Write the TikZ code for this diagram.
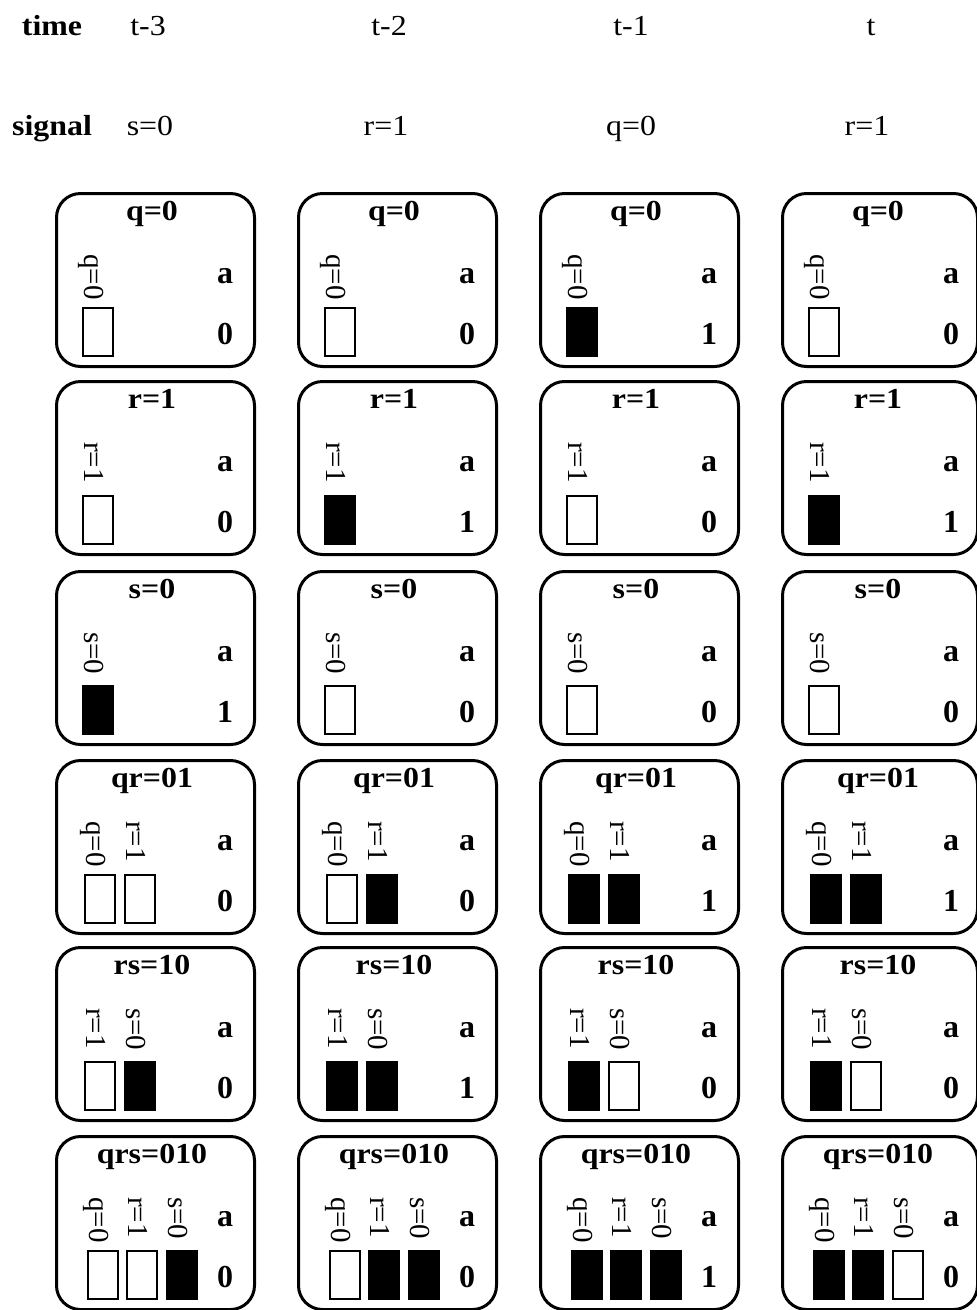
\documentclass[tikz,border=0pt]{standalone}
\usepackage{fontspec}
\setmainfont{Liberation Serif}
\newfontfamily\widefont{Liberation Serif}[FakeStretch=1.1]
\usetikzlibrary{calc}
\tikzset{
  panelbox/.style={draw, line width=3pt, rounded corners=24pt, minimum width=198pt,
    minimum height=173pt, inner sep=0pt, anchor=north west},
  bitbox/.style={draw, line width=2.6pt},
  head/.style={font=\widefont\fontsize{29}{32}\selectfont, anchor=base, inner sep=0pt},
  headb/.style={head, font=\widefont\bfseries\fontsize{29}{32}\selectfont},
  ttl/.style={font=\widefont\bfseries\fontsize{29}{32}\selectfont, anchor=base, inner sep=0pt},
  valtxt/.style={font=\bfseries\fontsize{32}{34}\selectfont, anchor=base, inner sep=0pt},
  lab/.style={rotate=-90, anchor=base west, inner sep=0pt, font=\fontsize{29}{30}\selectfont}
}
\newcommand\panel[7][]{%
  \node[panelbox,#1] (#2) at (#3,#4) {};
  \node[ttl] (#2t) at ($(#2.north west)+(97,28)$) {#5};
  \node[valtxt] (#2a) at ($(#2.north west)+(170,91)$) {a};
  \node[valtxt] (#2v) at ($(#2.north west)+(170,152)$) {#6};
  \foreach \bx/\lab/\fl [count=\k] in {#7} {
    \draw[bitbox, fill=\fl] ($(#2.north west)+(\bx,116)$) rectangle ++(30,48);
    \node[lab] (#2l\k) at ($(#2.north west)+(\bx+1,62)$) {\lab};
  }%
}
\begin{document}
\begin{tikzpicture}[x=1pt,y=-1pt]
\useasboundingbox (0,0) rectangle (977,1310);
% header
\node[headb] (time) at (52,35) {time};
\node[head] (tm3) at (148,35) {t-3};
\node[head] (tm2) at (389,35) {t-2};
\node[head] (tm1) at (631,35) {t-1};
\node[head] (tt) at (871,35) {t};
\node[headb] (signal) at (52,135) {signal};
\node[head] (sg1) at (150,135) {s=0};
\node[head] (sg2) at (386,135) {r=1};
\node[head] (sg3) at (631,135) {q=0};
\node[head] (sg4) at (867,135) {r=1};
% row 1
\panel{a1}{55}{192}{q=0}{0}{28/q=0/white}
\panel{b1}{297}{192}{q=0}{0}{28/q=0/white}
\panel{c1}{539}{192}{q=0}{1}{28/q=0/black}
\panel[minimum width=195pt]{d1}{781}{192}{q=0}{0}{28/q=0/white}
% row 2
\panel{a2}{55}{380}{r=1}{0}{28/r=1/white}
\panel{b2}{297}{380}{r=1}{1}{28/r=1/black}
\panel{c2}{539}{380}{r=1}{0}{28/r=1/white}
\panel[minimum width=195pt]{d2}{781}{380}{r=1}{1}{28/r=1/black}
% row 3
\panel{a3}{55}{570}{s=0}{1}{28/s=0/black}
\panel{b3}{297}{570}{s=0}{0}{28/s=0/white}
\panel{c3}{539}{570}{s=0}{0}{28/s=0/white}
\panel[minimum width=195pt]{d3}{781}{570}{s=0}{0}{28/s=0/white}
% row 4
\panel{a4}{55}{759}{qr=01}{0}{30/q=0/white,70/r=1/white}
\panel{b4}{297}{759}{qr=01}{0}{30/q=0/white,70/r=1/black}
\panel{c4}{539}{759}{qr=01}{1}{30/q=0/black,70/r=1/black}
\panel[minimum width=195pt]{d4}{781}{759}{qr=01}{1}{30/q=0/black,70/r=1/black}
% row 5
\panel{a5}{55}{946}{rs=10}{0}{30/r=1/white,70/s=0/black}
\panel{b5}{297}{946}{rs=10}{1}{30/r=1/black,70/s=0/black}
\panel{c5}{539}{946}{rs=10}{0}{30/r=1/black,70/s=0/white}
\panel[minimum width=195pt]{d5}{781}{946}{rs=10}{0}{30/r=1/black,70/s=0/white}
% row 6
\panel{a6}{55}{1135}{qrs=010}{0}{33/q=0/white,72/r=1/white,112/s=0/black}
\panel{b6}{297}{1135}{qrs=010}{0}{33/q=0/white,72/r=1/black,112/s=0/black}
\panel{c6}{539}{1135}{qrs=010}{1}{33/q=0/black,72/r=1/black,112/s=0/black}
\panel[minimum width=195pt]{d6}{781}{1135}{qrs=010}{0}{33/q=0/black,72/r=1/black,112/s=0/white}
\end{tikzpicture}
\end{document}
